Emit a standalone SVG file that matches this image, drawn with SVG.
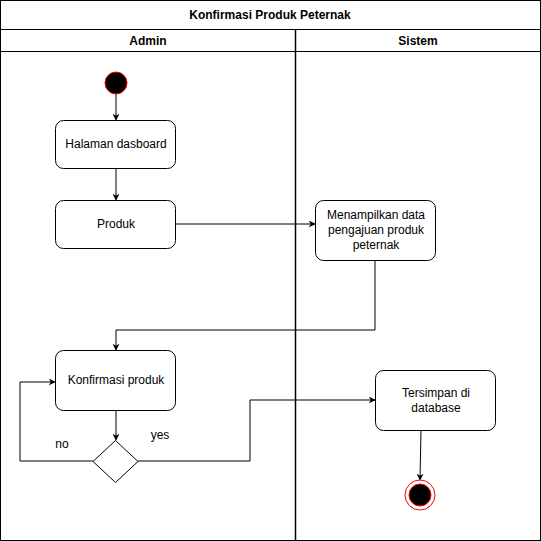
<svg xmlns="http://www.w3.org/2000/svg" width="541" height="541" viewBox="0 0 541 541">
<defs>
<marker id="arr" viewBox="0 0 10 10" refX="9" refY="5" markerWidth="7" markerHeight="7" orient="auto" markerUnits="userSpaceOnUse"><path d="M0,0 L10,5 L0,10 L3,5 Z" fill="#000"/></marker>
<style>
text{font-family:"Liberation Sans",Arial,sans-serif;font-size:12px;fill:#000;text-anchor:middle}
.hd{font-weight:bold}
.box{fill:#fff;stroke:#000;stroke-width:1}
.ln{fill:none;stroke:#000;stroke-width:1;marker-end:url(#arr)}
.pl{fill:none;stroke:#000;stroke-width:1}
</style>
</defs>
<rect x="0" y="0" width="541" height="541" fill="#fff"/>
<g id="pool">
<rect x="0.5" y="0.5" width="540" height="540" fill="none" stroke="#000"/>
<line x1="0" y1="29.5" x2="541" y2="29.5" stroke="#000"/>
<line x1="0" y1="51.5" x2="541" y2="51.5" stroke="#000"/>
<line x1="295.5" y1="29.5" x2="295.5" y2="541" stroke="#000" stroke-width="1.5"/>
<text class="hd" x="270" y="19">Konfirmasi Produk Peternak</text>
<text class="hd" x="148" y="45">Admin</text>
<text class="hd" x="418" y="45">Sistem</text>
</g>
<g id="connectors">
<line class="ln" x1="116" y1="94" x2="116" y2="120"/>
<line class="ln" x1="116" y1="168" x2="116" y2="200"/>
<path class="ln" d="M175,224 L315,224"/>
<path class="ln" d="M375,260 L375,330 L116,330 L116,350"/>
<line class="ln" x1="116" y1="410" x2="116" y2="440"/>
<path class="ln" d="M93,461 L20,461 L20,382 L55,382"/>
<path class="ln" d="M138,461 L250,461 L250,400 L375,400"/>
<line class="ln" x1="421" y1="430" x2="420" y2="480"/>
<text x="62" y="448">no</text>
<text x="160" y="439">yes</text>
</g>
<g id="start"><circle cx="116" cy="83" r="11" fill="#000" stroke="#ff0000" stroke-width="1"/></g>
<g id="halaman"><rect class="box" x="55.5" y="120.5" width="120" height="48" rx="8"/><text x="116" y="148">Halaman dasboard</text></g>
<g id="produk"><rect class="box" x="55.5" y="200.5" width="120" height="48" rx="8"/><text x="116" y="228">Produk</text></g>
<g id="menampilkan"><rect class="box" x="315.5" y="200.5" width="120" height="60" rx="8"/><text x="376" y="219">Menampilkan data</text><text x="376" y="234">pengajuan produk</text><text x="376" y="249">peternak</text></g>
<g id="konfirmasi"><rect class="box" x="55.5" y="350.5" width="120" height="60" rx="8"/><text x="116" y="384">Konfirmasi produk</text></g>
<g id="decision"><polygon class="box" points="115.5,440.5 138,461.5 115.5,482.5 93,461.5"/></g>
<g id="tersimpan"><rect class="box" x="375.5" y="370.5" width="120" height="60" rx="8"/><text x="436" y="397">Tersimpan di</text><text x="436" y="412">database</text></g>
<g id="end"><circle cx="420" cy="495" r="15" fill="#fff" stroke="#ff0000" stroke-width="1"/><circle cx="420" cy="495" r="11" fill="#000" stroke="#ff0000" stroke-width="1"/></g>
</svg>
